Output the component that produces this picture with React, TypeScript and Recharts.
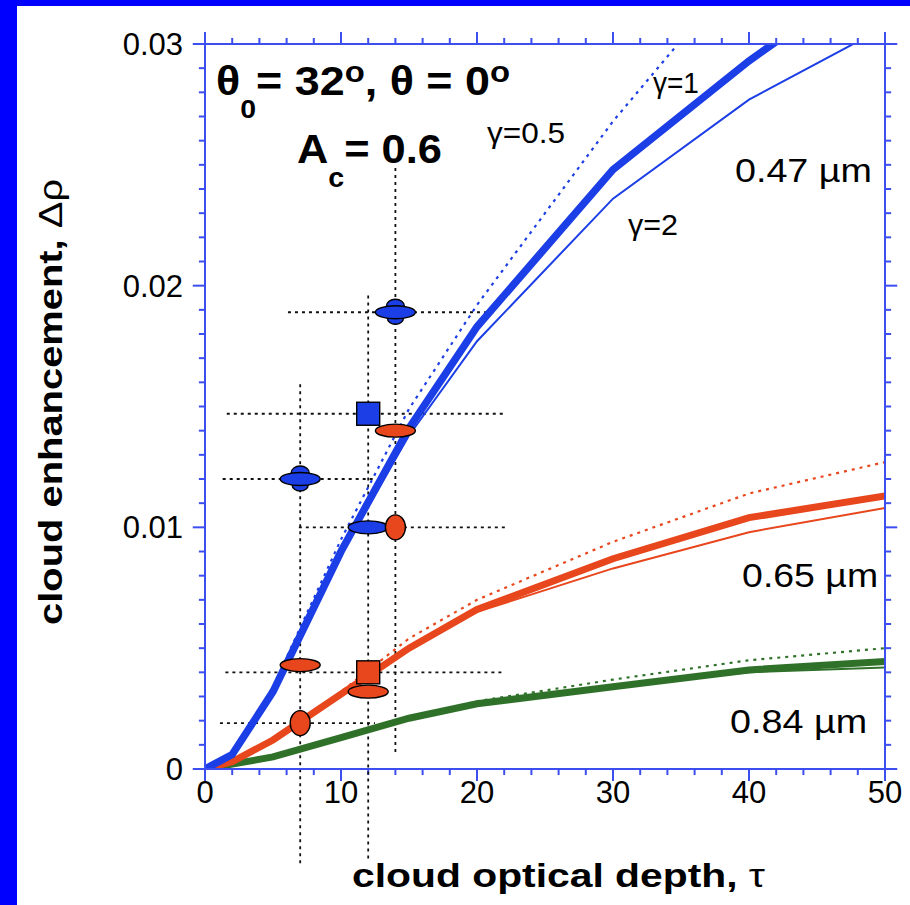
import React from 'react';
import { ComposedChart, Line, Scatter, XAxis, YAxis, ReferenceLine, ReferenceDot } from 'recharts';

// model curves, sampled at these optical depths
const tau = [0, 2, 5, 10, 15, 20, 30, 40, 50];

// 0.47 um
const blueG1 = [0, 0.0006, 0.0032, 0.009, 0.0141, 0.0183, 0.0248, 0.0293, 0.0333];
const blueG2 = [0, 0.0006, 0.0032, 0.0089, 0.0138, 0.0177, 0.0236, 0.0277, 0.0307];
const blueG05 = [0, 0.0006, 0.0034, 0.0095, 0.0149, 0.0192, 0.0268, 0.0335, 0.04];
// 0.65 um
const redG1 = [0, 0.0003, 0.0012, 0.0031, 0.005, 0.0066, 0.0087, 0.0104, 0.0113];
const redG2 = [0, 0.0003, 0.0012, 0.0031, 0.005, 0.0065, 0.0083, 0.0098, 0.0108];
const redG05 = [0, 0.0003, 0.0012, 0.0032, 0.0054, 0.007, 0.0094, 0.0114, 0.0127];
// 0.84 um
const greenG1 = [0, 0.0002, 0.0005, 0.0013, 0.0021, 0.0027, 0.0034, 0.0041, 0.00445];
const greenG2 = [0, 0.0002, 0.0005, 0.0013, 0.0021, 0.0027, 0.0034, 0.004, 0.0042];
const greenG05 = [0, 0.0002, 0.0005, 0.0013, 0.0021, 0.0028, 0.0037, 0.0045, 0.005];

// observations
const blueSaucers = [{ t: 14, v: 0.0189 }, { t: 7, v: 0.012 }];
const blueSquares = [{ t: 12, v: 0.0147 }];
const blueEllipses = [{ t: 12, v: 0.01 }];
const redEllipses = [{ t: 14, v: 0.014 }, { t: 7, v: 0.0043 }, { t: 12, v: 0.0032 }];
const redSquares = [{ t: 12, v: 0.004 }];
const redCircles = [{ t: 14, v: 0.01 }, { t: 7, v: 0.0019 }];

// dotted error bars
const hBars = [
  { v: 0.0189, from: 6.1, to: 21.3 },
  { v: 0.0147, from: 1.6, to: 21.9 },
  { v: 0.012, from: 1.3, to: 12.5 },
  { v: 0.01, from: 6.9, to: 22.1 },
  { v: 0.004, from: 1.5, to: 21.8 },
  { v: 0.0019, from: 1.1, to: 12.5 },
];
const vBars = [
  { t: 7, from: -0.0039, to: 0.016 },
  { t: 12, from: -0.0037, to: 0.0197 },
  { t: 14, from: 0.0007, to: 0.025 },
];

const xTicks = [0, 2, 4, 6, 8, 10, 12, 14, 16, 18, 20, 22, 24, 26, 28, 30, 32, 34, 36, 38, 40, 42, 44, 46, 48, 50];
const yTicks = [
  0, 0.001, 0.002, 0.003, 0.004, 0.005, 0.006, 0.007, 0.008, 0.009, 0.01, 0.011, 0.012, 0.013, 0.014, 0.015,
  0.016, 0.017, 0.018, 0.019, 0.02, 0.021, 0.022, 0.023, 0.024, 0.025, 0.026, 0.027, 0.028, 0.029, 0.03,
];
const yLabels: Record<number, string> = { 0: '0', 10: '0.01', 20: '0.02', 30: '0.03' };

const BLUE = '#1c3ee6';
const RED = '#e8461c';
const GREEN = '#30712a';
const AXIS = '#3d4ef0';
const FONT = '"Liberation Sans", Arial, Helvetica, sans-serif';

const pts = (ys: number[]) => tau.map((t, i) => ({ t, v: ys[i] }));
const xMajor = (t: number) => t % 10 === 0;
const yMajor = (v: number) => Math.round(v * 1000) % 10 === 0;

// tick marks (outward), lengths in data units: 12px / 6px
const X_LONG = 0.0005, X_SHORT = 0.00025;
const Y_LONG = 0.9, Y_SHORT = 0.45;

const BottomTick = (p: any) =>
  xMajor(p.payload.value) ? (
    <text x={p.x} y={p.y + 34} textAnchor="middle" fontSize={31} fontFamily={FONT} fill="#000" stroke="none">
      {p.payload.value}
    </text>
  ) : (
    <g />
  );
const LeftTick = (p: any) => {
  const k = Math.round(p.payload.value * 1000);
  return k % 10 === 0 ? (
    <text x={p.x - 22} y={p.y + 11} textAnchor="end" fontSize={31} fontFamily={FONT} fill="#000" stroke="none">
      {yLabels[k]}
    </text>
  ) : (
    <g />
  );
};

const Saucer = ({ cx, cy }: any) => (
  <g stroke="#000" strokeWidth={1.4} fill={BLUE}>
    <ellipse cx={cx} cy={cy - 6} rx={9} ry={7} />
    <ellipse cx={cx} cy={cy + 6} rx={8} ry={6} />
    <ellipse cx={cx} cy={cy} rx={20} ry={6.5} />
  </g>
);
const Flat = ({ cx, cy, color }: any) => (
  <ellipse cx={cx} cy={cy} rx={20} ry={6.5} fill={color} stroke="#000" strokeWidth={1.4} />
);
const Box = ({ cx, cy, color }: any) => (
  <rect x={cx - 11.5} y={cy - 11.5} width={23} height={23} fill={color} stroke="#000" strokeWidth={1.4} />
);
const Round = ({ cx, cy, color }: any) => (
  <ellipse cx={cx} cy={cy} rx={10} ry={12.5} fill={color} stroke="#000" strokeWidth={1.4} />
);

const note = (t: number, v: number, render: (x: number, y: number) => React.ReactElement) => (
  <ReferenceDot x={t} y={v} r={0} ifOverflow="visible" shape={(p: any) => render(p.cx, p.cy)} />
);

const tickSeg = (key: string, a: { x: number; y: number }, b: { x: number; y: number }) => (
  <ReferenceLine key={key} segment={[a, b]} ifOverflow="visible" stroke={AXIS} strokeWidth={2} />
);

export default function App() {
  return (
    <div style={{ position: 'absolute', left: 0, top: 0, width: 910, height: 905, background: '#fff' }}>
      <div style={{ position: 'absolute', left: 0, top: 0, width: 17, height: 905, background: '#0000fe' }} />
      <div style={{ position: 'absolute', left: 0, top: 0, width: 910, height: 6, background: '#0000fe' }} />
      <div style={{ position: 'absolute', left: 0, top: 0 }}>
        <ComposedChart width={910} height={905} margin={{ top: 43, right: 24, left: 0, bottom: 0 }}>
          <XAxis dataKey="t" type="number" domain={[0, 50]} ticks={xTicks} interval={0} height={136}
            tickSize={0} tickMargin={0} tickLine={false} tick={<BottomTick />} stroke={AXIS} strokeWidth={2} allowDataOverflow />
          <XAxis xAxisId="top" orientation="top" dataKey="t" type="number" domain={[0, 50]} height={1}
            tickLine={false} tick={false} stroke={AXIS} strokeWidth={2} />
          <YAxis dataKey="v" type="number" domain={[0, 0.03]} ticks={yTicks} interval={0} width={205}
            tickSize={0} tickMargin={0} tickLine={false} tick={<LeftTick />} stroke={AXIS} strokeWidth={2} allowDataOverflow />
          <YAxis yAxisId="r" orientation="right" dataKey="v" type="number" domain={[0, 0.03]} width={1}
            tickLine={false} tick={false} stroke={AXIS} strokeWidth={2} />

          {xTicks.map((t) => tickSeg('b' + t, { x: t, y: 0 }, { x: t, y: -(xMajor(t) ? X_LONG : X_SHORT) }))}
          {xTicks.map((t) => tickSeg('t' + t, { x: t, y: 0.03 }, { x: t, y: 0.03 + (xMajor(t) ? X_LONG : X_SHORT) }))}
          {yTicks.map((v) => tickSeg('l' + v, { x: 0, y: v }, { x: -(yMajor(v) ? Y_LONG : Y_SHORT), y: v }))}
          {yTicks.map((v) => tickSeg('r' + v, { x: 50, y: v }, { x: 50 + (yMajor(v) ? Y_LONG : Y_SHORT), y: v }))}

          {hBars.map((b, i) => (
            <ReferenceLine key={'h' + i} segment={[{ x: b.from, y: b.v }, { x: b.to, y: b.v }]} ifOverflow="visible"
              stroke="#111" strokeWidth={1.8} strokeDasharray="3 4" />
          ))}
          {vBars.map((b, i) => (
            <ReferenceLine key={'v' + i} segment={[{ x: b.t, y: b.from }, { x: b.t, y: b.to }]} ifOverflow="visible"
              stroke="#111" strokeWidth={1.8} strokeDasharray="3 4" />
          ))}

          <Line data={pts(greenG05)} dataKey="v" stroke={GREEN} strokeWidth={2.2} strokeDasharray="3 5" dot={false} isAnimationActive={false} />
          <Line data={pts(greenG2)} dataKey="v" stroke={GREEN} strokeWidth={2} dot={false} isAnimationActive={false} />
          <Line data={pts(greenG1)} dataKey="v" stroke={GREEN} strokeWidth={7} dot={false} isAnimationActive={false} />
          <Line data={pts(redG05)} dataKey="v" stroke={RED} strokeWidth={2.2} strokeDasharray="3 5" dot={false} isAnimationActive={false} />
          <Line data={pts(redG2)} dataKey="v" stroke={RED} strokeWidth={2} dot={false} isAnimationActive={false} />
          <Line data={pts(redG1)} dataKey="v" stroke={RED} strokeWidth={7} dot={false} isAnimationActive={false} />
          <Line data={pts(blueG05)} dataKey="v" stroke={BLUE} strokeWidth={2.2} strokeDasharray="3 5" dot={false} isAnimationActive={false} />
          <Line data={pts(blueG2)} dataKey="v" stroke={BLUE} strokeWidth={2} dot={false} isAnimationActive={false} />
          <Line data={pts(blueG1)} dataKey="v" stroke={BLUE} strokeWidth={7.5} dot={false} isAnimationActive={false} />

          <Scatter data={blueSaucers} dataKey="v" shape={(p: any) => <Saucer cx={p.cx} cy={p.cy} />} isAnimationActive={false} />
          <Scatter data={blueSquares} dataKey="v" shape={(p: any) => <Box cx={p.cx} cy={p.cy} color={BLUE} />} isAnimationActive={false} />
          <Scatter data={blueEllipses} dataKey="v" shape={(p: any) => <Flat cx={p.cx} cy={p.cy} color={BLUE} />} isAnimationActive={false} />
          <Scatter data={redEllipses} dataKey="v" shape={(p: any) => <Flat cx={p.cx} cy={p.cy} color={RED} />} isAnimationActive={false} />
          <Scatter data={redSquares} dataKey="v" shape={(p: any) => <Box cx={p.cx} cy={p.cy} color={RED} />} isAnimationActive={false} />
          <Scatter data={redCircles} dataKey="v" shape={(p: any) => <Round cx={p.cx} cy={p.cy} color={RED} />} isAnimationActive={false} />

          {note(0.81, 0.02789, (x, y) => (
            <text x={x} y={y} fontSize={41} fontWeight="bold" fontFamily={FONT} fill="#000" textLength={294} lengthAdjust="spacingAndGlyphs">
              θ<tspan dy={23} fontSize={26}>0</tspan>
              <tspan dy={-23}>= 32</tspan>
              <tspan dy={-13} fontSize={30}>o</tspan>
              <tspan dy={13}>, θ = 0</tspan>
              <tspan dy={-13} fontSize={30}>o</tspan>
            </text>
          ))}
          {note(6.76, 0.02508, (x, y) => (
            <text x={x} y={y} fontSize={41} fontWeight="bold" fontFamily={FONT} fill="#000" textLength={145} lengthAdjust="spacingAndGlyphs">
              A<tspan dy={24} fontSize={27}>c</tspan>
              <tspan dy={-24}>= 0.6</tspan>
            </text>
          ))}
          {note(32.94, 0.02797, (x, y) => (
            <text x={x} y={y} fontSize={30} fontFamily={FONT} fill="#000" textLength={46} lengthAdjust="spacingAndGlyphs">γ=1</text>
          ))}
          {note(20.74, 0.0259, (x, y) => (
            <text x={x} y={y} fontSize={30} fontFamily={FONT} fill="#000" textLength={78} lengthAdjust="spacingAndGlyphs">γ=0.5</text>
          ))}
          {note(31.1, 0.0221, (x, y) => (
            <text x={x} y={y} fontSize={30} fontFamily={FONT} fill="#000" textLength={50} lengthAdjust="spacingAndGlyphs">γ=2</text>
          ))}
          {note(49.04, 0.0243, (x, y) => (
            <text x={x} y={y} fontSize={33} textAnchor="end" fontFamily={FONT} fill="#000" textLength={137} lengthAdjust="spacingAndGlyphs">0.47 µm</text>
          ))}
          {note(49.49, 0.00755, (x, y) => (
            <text x={x} y={y} fontSize={33} textAnchor="end" fontFamily={FONT} fill="#000" textLength={136} lengthAdjust="spacingAndGlyphs">0.65 µm</text>
          ))}
          {note(48.68, 0.00149, (x, y) => (
            <text x={x} y={y} fontSize={33} textAnchor="end" fontFamily={FONT} fill="#000" textLength={137} lengthAdjust="spacingAndGlyphs">0.84 µm</text>
          ))}
          {note(10.81, -0.00488, (x, y) => (
            <text x={x} y={y} fontSize={34} fontWeight="bold" fontFamily={FONT} fill="#000" textLength={413} lengthAdjust="spacingAndGlyphs">
              cloud optical depth,<tspan fontWeight="normal"> τ</tspan>
            </text>
          ))}
          {note(-11.4, 0.01519, (x, y) => (
            <text x={x} y={y} fontSize={34} fontWeight="bold" fontFamily={FONT} fill="#000" textAnchor="middle"
              dominantBaseline="central" transform={`rotate(-90 ${x} ${y})`} textLength={446} lengthAdjust="spacingAndGlyphs">
              cloud enhancement,<tspan fontWeight="normal"> Δρ</tspan>
            </text>
          ))}
        </ComposedChart>
      </div>
    </div>
  );
}
